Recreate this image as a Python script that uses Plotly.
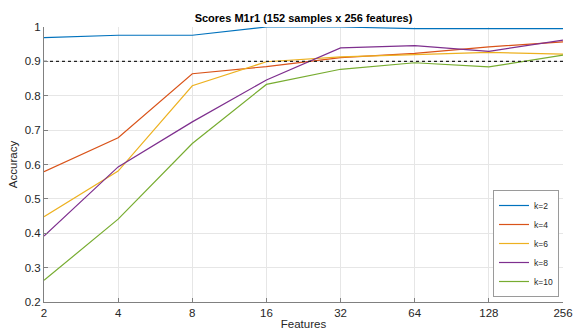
import plotly.graph_objects as go

features = [2, 4, 8, 16, 32, 64, 128, 256]
k2 = [0.969, 0.976, 0.976, 1.0, 1.0, 0.995, 0.995, 0.995]
k4 = [0.579, 0.678, 0.864, 0.885, 0.911, 0.923, 0.942, 0.957]
k6 = [0.448, 0.581, 0.829, 0.899, 0.913, 0.919, 0.926, 0.921]
k8 = [0.392, 0.593, 0.724, 0.846, 0.939, 0.946, 0.929, 0.962]
k10 = [0.263, 0.441, 0.661, 0.833, 0.877, 0.896, 0.884, 0.918]
series_names = ["k=2", "k=4", "k=6", "k=8", "k=10"]
threshold = 0.9
colors = ["#0072BD", "#D95319", "#EDB120", "#7E2F8E", "#77AC30"]

fig = go.Figure()
for name, vals, c in zip(series_names, [k2, k4, k6, k8, k10], colors):
    fig.add_trace(go.Scatter(x=features, y=vals, mode="lines", name=name,
                             line=dict(color=c, width=1.2)))
fig.add_trace(go.Scatter(x=[features[0], features[-1]], y=[threshold, threshold],
                         mode="lines", showlegend=False,
                         line=dict(color="#222222", width=1.3, dash="dot")))

W, H = 576, 335
L, R, T, B = 44, 13, 27, 33
axis_font = dict(family="Liberation Sans, Arial", size=11.5, color="#262626")
fig.update_layout(
    width=W, height=H,
    margin=dict(l=L, r=R, t=T, b=B),
    paper_bgcolor="white", plot_bgcolor="white",
    title=dict(text="<b>Scores M1r1 (152 samples x 256 features)</b>",
               x=(L + W - R) / 2 / W, xanchor="center", y=1 - 18 / H, yanchor="middle",
               font=dict(family="Liberation Sans, Arial", size=11, color="#000000")),
    font=axis_font,
    xaxis=dict(type="log", range=[0.30103, 2.40824], tickvals=features,
               ticktext=[str(f) for f in features], automargin=False,
               showgrid=True, gridcolor="#e6e6e6", gridwidth=1,
               showline=True, linecolor="#808080", linewidth=1,
               ticks="inside", ticklen=4, tickcolor="#808080",
               title=dict(text="Features", standoff=2, font=axis_font),
               zeroline=False, tickfont=axis_font),
    yaxis=dict(range=[0.2, 1.0], tickvals=[0.2, 0.3, 0.4, 0.5, 0.6, 0.7, 0.8, 0.9, 1.0],
               ticktext=["0.2", "0.3", "0.4", "0.5", "0.6", "0.7", "0.8", "0.9", "1"],
               automargin=False,
               showgrid=True, gridcolor="#e6e6e6", gridwidth=1,
               showline=True, linecolor="#808080", linewidth=1,
               ticks="inside", ticklen=4, tickcolor="#808080",
               title=dict(text="Accuracy", standoff=4, font=axis_font),
               zeroline=False, tickfont=axis_font),
    legend=dict(x=1 - 4 / (W - L - R), xanchor="right", y=5 / (H - T - B), yanchor="bottom",
                bgcolor="white", bordercolor="#9a9a9a", borderwidth=1,
                font=dict(family="Liberation Sans, Arial", size=8.5, color="#262626"),
                itemwidth=30, tracegroupgap=0),
    showlegend=True,
)
fig.write_html("out.html", config={"displayModeBar": False},
               post_script="document.body.style.margin='0';document.body.style.overflow='hidden';")
